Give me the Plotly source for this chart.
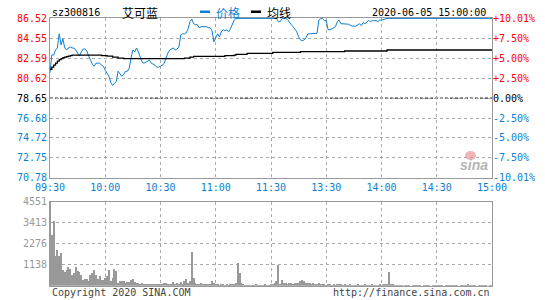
import plotly.graph_objects as go

# ---------------- data ----------------
prev_close = 78.65
price_ticks = [70.78, 72.75, 74.72, 76.68, 78.65, 80.62, 82.59, 84.55, 86.52]
pct_labels = ["-10.01%", "-7.50%", "-5.00%", "-2.50%", "0.00%",
              "+2.50%", "+5.00%", "+7.50%", "+10.01%"]
time_pos = [0, 30, 60, 90, 120, 150, 180, 210, 240]
time_labels = ["09:30", "10:00", "10:30", "11:00", "11:30",
               "13:30", "14:00", "14:30", "15:00"]
vol_ticks = [1138, 2276, 3413, 4551]
minutes = list(range(241))

price = [
    81.15, 82.90, 82.90, 83.40, 83.60, 85.00, 83.90, 84.50, 83.60, 83.40,
    83.60, 83.70, 83.60, 83.60, 83.40, 83.10, 82.80, 83.20, 83.50, 83.50,
    83.30, 82.80, 82.30, 82.00, 81.80, 82.10, 82.10, 82.10, 81.90, 81.80,
    81.40, 81.10, 80.80, 80.20, 79.90, 80.10, 80.30, 81.30, 81.10, 80.80,
    81.00, 81.30, 81.30, 81.60, 82.60, 83.40, 83.20, 83.60, 83.20, 82.60,
    82.20, 82.10, 82.20, 82.30, 82.40, 82.10, 82.00, 81.90, 81.70, 81.70,
    81.80, 81.90, 82.10, 82.70, 83.10, 83.40, 83.50, 83.60, 83.40, 83.50,
    83.70, 84.90, 85.00, 85.00, 85.10, 85.50, 86.20, 86.45, 86.00, 85.90,
    85.90, 85.60, 85.70, 85.70, 85.70, 85.70, 85.60, 85.60, 85.30, 84.20,
    84.60, 85.00, 84.70, 85.20, 85.40, 85.30, 85.40, 85.20, 85.50, 85.90,
    86.35, 86.52, 86.52, 86.52, 86.52, 86.52, 86.52, 86.52, 86.52, 86.52,
    86.52, 86.52, 86.52, 86.52, 86.52, 86.52, 86.52, 86.52, 86.52, 86.52,
    86.52, 86.52, 86.52, 86.52, 86.20, 86.20, 86.52, 86.52, 86.52, 86.40,
    86.10, 85.90, 85.70, 85.40, 85.20, 84.70, 84.40, 84.30, 84.40, 84.60,
    85.00, 85.00, 85.00, 85.00, 85.00, 85.05, 86.35, 86.50, 86.52, 86.30,
    86.30, 85.40, 85.40, 85.50, 85.60, 85.70, 86.20, 86.35, 86.00, 86.00,
    86.00, 86.00, 85.95, 85.85, 85.76, 85.76, 85.76, 85.85, 86.00, 85.80,
    86.10, 86.00, 86.20, 86.30, 86.20, 86.30, 86.30, 86.30, 86.20, 86.35,
    86.35, 86.40, 86.52, 86.52, 86.52, 86.52, 86.52, 86.52, 86.52, 86.52,
    86.52, 86.52, 86.52, 86.52, 86.52, 86.52, 86.52, 86.52, 86.52, 86.52,
    86.52, 86.52, 86.52, 86.52, 86.52, 86.52, 86.52, 86.52, 86.52, 86.52,
    86.52, 86.52, 86.52, 86.52, 86.52, 86.52, 86.52, 86.52, 86.52, 86.52,
    86.52, 86.52, 86.52, 86.52, 86.52, 86.52, 86.52, 86.52, 86.52, 86.52,
    86.52, 86.52, 86.52, 86.52, 86.52, 86.52, 86.52, 86.52, 86.52, 86.52,
    86.52,
]

avg_min = [0, 1, 2, 3, 4, 5, 6, 7, 8, 9, 10, 11, 12, 20, 28, 31, 34, 37, 40,
           70, 73, 76, 78, 95, 100, 101, 107, 121, 136, 160, 183, 240]
avg_val = [81.50, 81.70, 81.90, 82.10, 82.30, 82.45, 82.55, 82.65, 82.70,
           82.75, 82.80, 82.85, 82.90, 82.90, 82.85, 82.80, 82.70, 82.60,
           82.55, 82.55, 82.60, 82.70, 82.78, 82.84, 82.90, 82.97, 83.07,
           83.17, 83.24, 83.30, 83.40, 83.40]

volume = [
    4551, 2738, 3517, 1650, 1958, 1650, 1777, 888, 780, 888,
    1051, 925, 616, 689, 1051, 834, 743, 616, 344, 380,
    380, 254, 616, 689, 888, 616, 380, 562, 344, 344,
    435, 562, 888, 290, 435, 943, 834, 145, 290, 254,
    290, 163, 235, 199, 326, 380, 217, 145, 145, 127,
    163, 109, 91, 109, 72, 91, 72, 109, 91, 72,
    91, 109, 145, 163, 109, 127, 91, 217, 109, 181,
    109, 217, 109, 290, 362, 181, 290, 1842, 435, 181,
    127, 91, 145, 109, 91, 127, 109, 91, 270, 145,
    91, 72, 54, 72, 91, 54, 72, 54, 72, 91,
    109, 145, 1246, 704, 160, 72, 54, 36, 54, 36,
    54, 36, 72, 36, 54, 36, 54, 72, 36, 54,
    72, 90, 145, 270, 1120, 109, 307, 145, 163, 127,
    145, 163, 127, 145, 163, 181, 290, 330, 250, 163,
    145, 163, 127, 145, 109, 127, 163, 91, 72, 72,
    54, 72, 91, 54, 72, 54, 72, 91, 72, 54,
    72, 54, 54, 72, 54, 36, 54, 72, 54, 36,
    54, 72, 54, 36, 54, 72, 54, 36, 54, 72,
    54, 72, 90, 109, 758, 127, 72, 54, 36, 54,
    36, 54, 0, 36, 54, 36, 0, 36, 54, 36,
    54, 36, 0, 54, 36, 36, 54, 0, 36, 54,
    36, 36, 54, 36, 0, 36, 54, 36, 36, 54,
    54, 36, 0, 36, 54, 36, 54, 109, 36, 54,
    36, 54, 0, 36, 54, 36, 54, 36, 0, 36,
    54,
]

# ---------------- style ----------------
W, H = 545, 300
BLUE = "#0b7fd4"
RED = "#ff0000"
GRID = "#aaaaaa"
BORDER = "#999999"
MONO = "DejaVu Sans Mono"
CJK = "Noto Sans CJK SC"

x_dom = [50 / W, 492 / W]
y_price_dom = [1 - 178 / H, 1 - 18 / H]
y_vol_dom = [1 - 285.7 / H, 1 - 201.7 / H]


def col_for(v):
    if v > prev_close + 1e-9:
        return RED
    if v < prev_close - 1e-9:
        return BLUE
    return "#000000"


left_text = [f"<span style='color:{col_for(v)}'>{v:.2f}</span>" for v in price_ticks]
right_text = [f"<span style='color:{col_for(v)}'>{t}</span>" for v, t in zip(price_ticks, pct_labels)]

fig = go.Figure()
fig.add_trace(go.Scatter(x=minutes, y=price, mode="lines",
                         line=dict(color=BLUE, width=1),
                         xaxis="x", yaxis="y", hoverinfo="skip"))
fig.add_trace(go.Scatter(x=avg_min, y=avg_val, mode="lines",
                         line=dict(color="#000000", width=1.3, shape="hv"),
                         xaxis="x", yaxis="y", hoverinfo="skip"))
fig.add_trace(go.Scatter(x=[None], y=[None], xaxis="x", yaxis="y3",
                         mode="lines", hoverinfo="skip"))
fig.add_trace(go.Bar(x=minutes, y=volume, marker_color="#999999",
                     marker_line_width=0, width=0.6,
                     xaxis="x2", yaxis="y2", hoverinfo="skip"))

prange = [70.76, 86.56]
common_x = dict(domain=x_dom, range=[0, 240], tickvals=time_pos,
                showgrid=True, gridcolor=GRID, griddash="dot", gridwidth=1,
                showline=True, mirror=True, linecolor=BORDER, linewidth=1,
                zeroline=False, ticks="", layer="below traces",
                automargin=False, fixedrange=True)

fig.update_layout(
    width=W, height=H,
    margin=dict(l=0, r=0, t=0, b=0, autoexpand=False),
    paper_bgcolor="white", plot_bgcolor="white",
    showlegend=False, bargap=0,
    xaxis=dict(**common_x, anchor="y", ticktext=time_labels,
               tickfont=dict(family=MONO, size=10, color=BLUE)),
    yaxis=dict(domain=y_price_dom, range=prange, tickvals=price_ticks,
               ticktext=left_text, tickfont=dict(family=MONO, size=10),
               showgrid=True, gridcolor=GRID, griddash="dot",
               showline=True, mirror=True, linecolor=BORDER, linewidth=1,
               zeroline=False, ticks="", anchor="x", layer="below traces",
               automargin=False),
    yaxis3=dict(overlaying="y", side="right", anchor="x", range=prange,
                tickvals=price_ticks, ticktext=right_text,
                tickfont=dict(family=MONO, size=10), showgrid=False,
                zeroline=False, showline=False, ticks="", automargin=False),
    xaxis2=dict(**common_x, anchor="y2", showticklabels=False),
    yaxis2=dict(domain=y_vol_dom, range=[0, 4551], tickvals=vol_ticks,
                tickfont=dict(family=MONO, size=10, color="#999999"),
                showgrid=True, gridcolor=GRID, griddash="dot",
                showline=True, mirror=True, linecolor=BORDER, linewidth=1,
                zeroline=False, ticks="", anchor="x2", layer="below traces",
                automargin=False),
)

# previous close dashed line
fig.add_shape(type="line", xref="x", yref="y", x0=0, x1=240,
              y0=prev_close, y1=prev_close,
              line=dict(color="#000000", width=1, dash="3px,2px"), layer="below")


def ptx(px):
    return px / W


def pty(py):
    return 1 - py / H


anns = [
    dict(text="sz300816", x=ptx(50), y=pty(12), xanchor="left",
         font=dict(family=MONO, size=10, color="#000")),
    dict(text="艾可蓝", x=ptx(120), y=pty(12), xanchor="left",
         font=dict(family=CJK, size=12, color="#000")),
    dict(text="价格", x=ptx(214), y=pty(12), xanchor="left",
         font=dict(family=CJK, size=12, color=BLUE)),
    dict(text="均线", x=ptx(265), y=pty(12), xanchor="left",
         font=dict(family=CJK, size=12, color="#000")),
    dict(text="2020-06-05 15:00:00", x=ptx(488), y=pty(12), xanchor="right",
         font=dict(family=MONO, size=10, color="#000")),
    dict(text="Copyright 2020 SINA.COM", x=ptx(50), y=pty(292), xanchor="left",
         font=dict(family=MONO, size=10, color="#444")),
    dict(text="http://finance.sina.com.cn", x=ptx(492), y=pty(292), xanchor="right",
         font=dict(family=MONO, size=10, color="#444")),
    dict(text="<b><i>sina</i></b>", x=ptx(474), y=pty(165), xanchor="center",
         font=dict(family="Liberation Sans", size=14, color="#b5b5b5")),
]
for a in anns:
    a.update(xref="paper", yref="paper", yanchor="middle", showarrow=False)
fig.update_layout(annotations=anns)

# legend swatches and watermark eye
fig.add_shape(type="rect", xref="paper", yref="paper",
              x0=ptx(200), x1=ptx(210), y0=pty(13), y1=pty(10.5),
              fillcolor=BLUE, line_width=0)
fig.add_shape(type="rect", xref="paper", yref="paper",
              x0=ptx(251), x1=ptx(261), y0=pty(13), y1=pty(10.5),
              fillcolor="#000", line_width=0)
fig.add_shape(type="circle", xref="paper", yref="paper",
              x0=ptx(465), x1=ptx(476), y0=pty(160), y1=pty(151),
              fillcolor="rgba(230,120,120,0.55)", line_width=0)

fig.write_html("out.html")
